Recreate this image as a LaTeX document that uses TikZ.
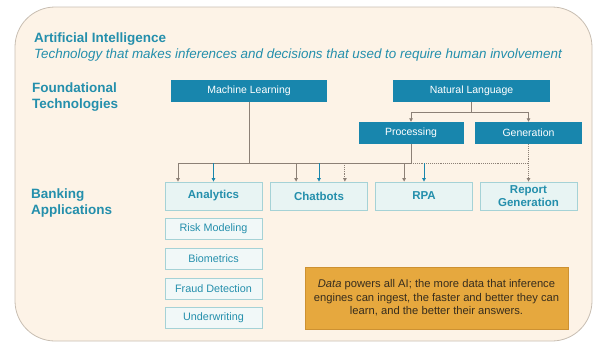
\documentclass[tikz,border=0pt]{standalone}
\usepackage{fontspec}
\setmainfont{Liberation Sans}
\usetikzlibrary{arrows.meta}
\definecolor{cream}{RGB}{253,243,231}
\definecolor{frame}{RGB}{200,190,178}
\definecolor{techblue}{RGB}{24,134,173}
\definecolor{teal}{RGB}{36,143,172}
\definecolor{appfill}{RGB}{232,244,243}
\definecolor{appline}{RGB}{165,210,214}
\definecolor{wire}{RGB}{140,128,118}
\definecolor{amber}{RGB}{230,168,62}
\definecolor{amberline}{RGB}{205,145,50}
\definecolor{ink}{RGB}{55,45,30}
\tikzset{
  techbox/.style={draw=none, fill=techblue, text=white, minimum height=22pt,
    inner sep=0pt, font=\fontsize{10.5}{12}\selectfont},
  appbox/.style={draw=appline, line width=0.8pt, fill=appfill, text=teal,
    minimum width=97pt, minimum height=28pt, inner sep=0pt, align=center,
    font=\fontsize{11.5}{13}\selectfont\bfseries},
  subbox/.style={draw=appline, line width=0.8pt, fill=appfill!60!white, text=teal,
    minimum width=97pt, minimum height=21pt, inner sep=0pt,
    font=\fontsize{10.8}{12}\selectfont},
  sidelabel/.style={text=teal, align=left, anchor=base west, inner sep=0pt,
    font=\fontsize{13.5}{15.5}\selectfont\bfseries},
  wireline/.style={draw=wire, line width=0.9pt},
  arr/.style={wireline, -{Triangle[length=3.5pt,width=3.5pt]}},
  bluearr/.style={draw=techblue, line width=0.9pt, -{Triangle[length=3.5pt,width=3.5pt]}},
  dotline/.style={draw=wire, line width=0.9pt, densely dotted},
  dotarr/.style={dotline, -{Triangle[length=3.5pt,width=3.5pt]}}
}
\begin{document}
\begin{tikzpicture}[x=1pt,y=-1pt]
\useasboundingbox (0,0) rectangle (594,343);
% panel
\draw[fill=cream, draw=frame, line width=0.8pt, rounded corners=40pt] (15,7) rectangle (592,341);

% headings
\node[anchor=base west, inner sep=0pt, text=teal, font=\fontsize{13.5}{16}\selectfont\bfseries]
  (title) at (34,42) {Artificial Intelligence};
\node[anchor=base west, inner sep=0pt, text=teal, font=\fontsize{13.4}{15}\selectfont\itshape]
  (subtitle) at (34,58) {Technology that makes inferences and decisions that used to require human involvement};
\node[sidelabel] (found) at (32,108) {Foundational\\Technologies};
\node[sidelabel] (bank) at (31,214) {Banking\\Applications};

% foundational technologies
\node[techbox, minimum width=156pt] (ml) at (249,91) {Machine Learning};
\node[techbox, minimum width=157pt] (nl) at (471.5,91) {Natural Language};
\node[techbox, minimum width=105pt] (proc) at (411,133) {Processing};
\node[techbox, minimum width=107pt] (gen) at (528.5,133) {Generation};

% banking applications
\node[appbox] (ana) at (213.5,196) {Analytics};
\node[appbox] (chat) at (319,196) {Chatbots};
\node[appbox] (rpa) at (424,196) {RPA};
\node[appbox] (rep) at (528.5,196) {Report\\Generation};

\node[subbox] (risk) at (213.5,228.5) {Risk Modeling};
\node[subbox] (bio) at (213.5,258.5) {Biometrics};
\node[subbox] (fraud) at (213.5,288.5) {Fraud Detection};
\node[subbox] (under) at (213.5,318) {Underwriting};

% note
\node[draw=amberline, line width=0.8pt, fill=amber, text=ink, minimum width=263pt,
  minimum height=62pt, inner sep=0pt, align=center,
  font=\fontsize{11.2}{13.4}\selectfont] (note) at (436.5,298)
  {\textit{Data} powers all AI; the more data that inference\\
   engines can ingest, the faster and better they can\\
   learn, and the better their answers.};

% natural language split
\coordinate (nlsplit) at ([yshift=-10pt]nl.south);
\draw[wireline] (nl.south) -- (nlsplit);
\draw[arr] (nlsplit) -| (proc.north);
\draw[arr] (nlsplit) -| (gen.north);

% shared bus
\coordinate (busL) at (178,163);
\coordinate (busR) at (proc.south |- busL);
\draw[wireline] (ml.south) -- (ml.south |- busL);
\draw[wireline] (proc.south) -- (busR);
\draw[wireline] (busL) -- (busR);
\draw[dotline] (busR) -- (gen.south |- busL);

% arrows into applications
\draw[arr] (busL) -- (busL |- ana.north);
\draw[bluearr] (ana.north |- busL) -- (ana.north);
\draw[arr] ([xshift=26pt]chat.north west |- busL) -- ([xshift=26pt]chat.north west);
\draw[bluearr] (chat.north |- busL) -- (chat.north);
\draw[dotarr] ([xshift=-23pt]chat.north east |- busL) -- ([xshift=-23pt]chat.north east);
\draw[arr] ([xshift=29pt]rpa.north west |- busL) -- ([xshift=29pt]rpa.north west);
\draw[bluearr] (rpa.north |- busL) -- (rpa.north);
\draw[dotarr] (gen.south) -- (rep.north);
\end{tikzpicture}
\end{document}
